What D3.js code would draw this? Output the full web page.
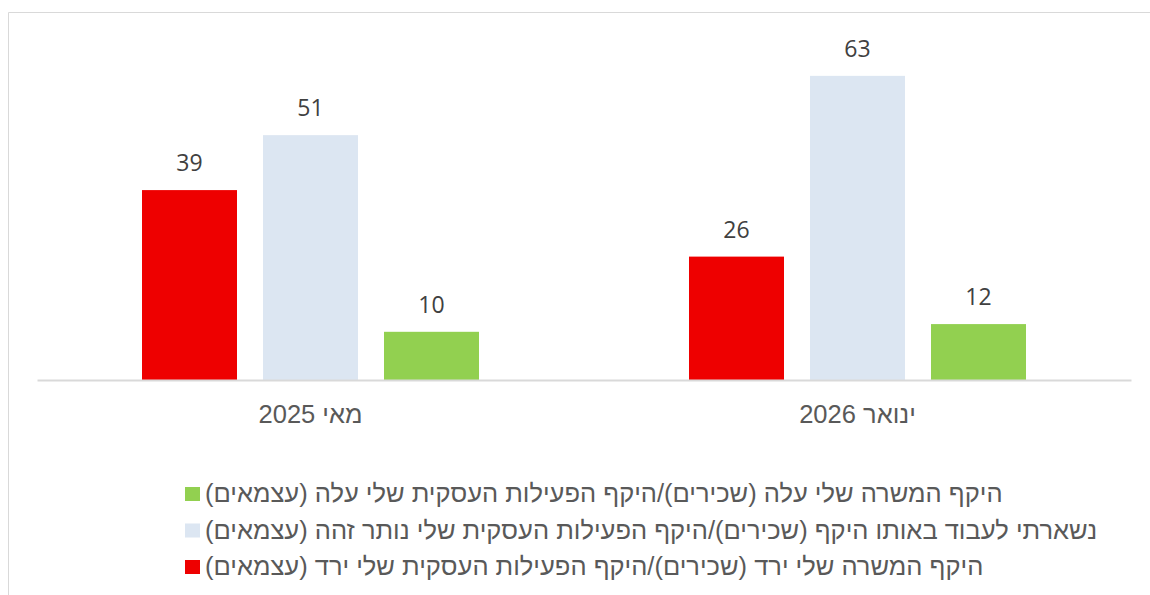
<!DOCTYPE html>
<html>
<head>
<meta charset="utf-8">
<script src="https://cdn.jsdelivr.net/npm/d3@7"></script>
<style>
  html, body { margin: 0; padding: 0; background: #fff; }
  svg { display: block; }
</style>
</head>
<body>
<svg id="chart" width="1150" height="595"></svg>
<script>
// ---- data ----
const categories = ["מאי 2025", "ינואר 2026"];
const seriesNames = [
  "היקף המשרה שלי ירד (שכירים)/היקף הפעילות העסקית שלי ירד (עצמאים)",
  "נשארתי לעבוד באותו היקף (שכירים)/היקף הפעילות העסקית שלי נותר זהה (עצמאים)",
  "היקף המשרה שלי עלה (שכירים)/היקף הפעילות העסקית שלי עלה (עצמאים)"
];
const seriesColors = ["#ee0000", "#dce6f2", "#92d050"];
const valuesDown = [39.4, 25.6];
const valuesSame = [50.8, 63.1];
const valuesUp = [10.0, 11.6];
const seriesValues = [valuesDown, valuesSame, valuesUp];
const legendOrder = [2, 1, 0];

// ---- layout ----
const svg = d3.select("#chart");
const W = 1150, H = 595;
const plotLeft = 37, plotRight = 1131, baseY = 380;

svg.append("path")
  .attr("d", `M8.5,${H} V12.5 H${W}`)
  .attr("fill", "none").attr("stroke", "#d9d9d9").attr("stroke-width", 1);

const x0 = d3.scaleBand().domain(categories).range([plotLeft, plotRight]).padding(0);
const innerPad = (x0.bandwidth() - 337) / 2;
const x1 = d3.scaleBand().domain(d3.range(seriesNames.length))
  .range([innerPad, x0.bandwidth() - innerPad]).paddingInner(0.2149).paddingOuter(0);
const y = d3.scaleLinear().domain([0, 70]).range([baseY, baseY - 70 * 4.82]);

const data = [];
categories.forEach((c, ci) => {
  seriesValues.forEach((vals, si) => data.push({ cat: c, s: si, v: vals[ci] }));
});

const g = svg.append("g");
g.selectAll("rect.bar").data(data).join("rect")
  .attr("class", "bar")
  .attr("x", d => x0(d.cat) + x1(d.s))
  .attr("y", d => y(d.v))
  .attr("width", x1.bandwidth())
  .attr("height", d => y(0) - y(d.v))
  .attr("fill", d => seriesColors[d.s]);

g.selectAll("text.lbl").data(data).join("text")
  .attr("class", "lbl")
  .attr("x", d => x0(d.cat) + x1(d.s) + x1.bandwidth() / 2)
  .attr("y", d => y(d.v) - 19)
  .attr("text-anchor", "middle")
  .attr("font-family", "'Open Sans', sans-serif")
  .attr("font-size", 23)
  .attr("fill", "#404040")
  .text(d => d3.format(".0f")(d.v));

const axis = d3.axisBottom(x0).tickSize(0).tickPadding(25);
const ax = svg.append("g").attr("transform", `translate(0,${baseY})`).call(axis);
ax.select(".domain").attr("stroke", "#d9d9d9").attr("stroke-width", 2);
ax.selectAll("text")
  .attr("font-family", "'Liberation Sans', Arial, sans-serif")
  .attr("font-size", 25.5)
  .attr("fill", "#595959")
  .attr("direction", "rtl");

// legend
const legY = d3.scalePoint().domain(legendOrder).range([494, 567]);
const leg = svg.append("g");
const items = leg.selectAll("g").data(legendOrder).join("g")
  .attr("transform", d => `translate(0,${legY(d)})`);
items.append("rect").attr("x", 185).attr("y", -7).attr("width", 15).attr("height", 14)
  .attr("fill", d => seriesColors[d]);
items.append("text")
  .attr("x", 205).attr("y", 8)
  .attr("direction", "rtl")
  .attr("text-anchor", "end")
  .attr("font-family", "'Liberation Sans', Arial, sans-serif")
  .attr("font-size", 25.5)
  .attr("fill", "#595959")
  .text(d => seriesNames[d]);
</script>
</body>
</html>
